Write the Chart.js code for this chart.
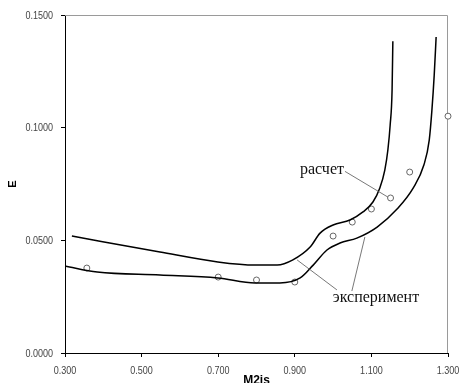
<!DOCTYPE html>
<html>
<head>
<meta charset="utf-8">
<script src="https://cdn.jsdelivr.net/npm/chart.js@4.4.1/dist/chart.umd.min.js"></script>
<style>
html,body{margin:0;padding:0;background:#fff;}
#wrap{width:462px;height:383px;position:relative;}
</style>
</head>
<body>
<div id="wrap"><canvas id="c" width="462" height="383"></canvas></div>
<script>
// ---- data ----
const upperX = [0.318,0.548,0.699,0.796,0.854,0.895,0.940,0.966,1.000,1.044,1.078,1.104,1.122,1.135,1.143,1.149,1.154,1.156];
const upperY = [0.0519,0.0448,0.0404,0.0390,0.0390,0.0413,0.0470,0.0532,0.0568,0.0590,0.0626,0.0670,0.0732,0.0812,0.0901,0.1012,0.1167,0.1384];
const lowerX = [0.300,0.384,0.548,0.699,0.796,0.861,0.914,0.948,0.984,1.018,1.062,1.115,1.167,1.209,1.237,1.251,1.258,1.264,1.269];
const lowerY = [0.0386,0.0359,0.0346,0.0333,0.0311,0.0311,0.0333,0.0390,0.0457,0.0488,0.0510,0.0559,0.0639,0.0732,0.0834,0.0945,0.1078,0.1233,0.1402];
const markX = [0.357,0.700,0.800,0.900,1.000,1.050,1.100,1.150,1.200,1.300];
const markY = [0.0377,0.0337,0.0324,0.0315,0.0519,0.0581,0.0639,0.0688,0.0803,0.1051];
const xTicks = [0.3,0.5,0.7,0.9,1.1,1.3];
const yTicks = [0,0.05,0.1,0.15];
const xTitle = 'M2is';
const yTitle = 'E';
// annotations (data units)
const notes = [
  {text:'расчет', x:0.971, y:0.0812},
  {text:'эксперимент', x:1.112, y:0.0244}
];
const leaders = [
  {x1:1.031, y1:0.0806, x2:1.143, y2:0.0692},
  {x1:1.010, y1:0.0280, x2:0.906, y2:0.0413},
  {x1:1.049, y1:0.0275, x2:1.083, y2:0.0515}
];

const pts = (xs, ys) => xs.map((x,i)=>({x:x, y:ys[i]}));
const NARROW = 0.82;

const framePlugin = {
  id:'frame',
  beforeDatasetsDraw(chart){
    const {ctx, chartArea:a} = chart;
    ctx.save();
    ctx.strokeStyle = '#9a9a9a';
    ctx.lineWidth = 1;
    ctx.beginPath();
    ctx.moveTo(a.left, a.top + 0.5);
    ctx.lineTo(a.right - 0.5, a.top + 0.5);
    ctx.lineTo(a.right - 0.5, a.bottom);
    ctx.stroke();
    ctx.restore();
  },
  afterDatasetsDraw(chart){
    const {ctx} = chart;
    const xs = chart.scales.x, ys = chart.scales.y;
    ctx.save();
    ctx.strokeStyle = '#555';
    ctx.lineWidth = 0.8;
    leaders.forEach(l=>{
      ctx.beginPath();
      ctx.moveTo(xs.getPixelForValue(l.x1), ys.getPixelForValue(l.y1));
      ctx.lineTo(xs.getPixelForValue(l.x2), ys.getPixelForValue(l.y2));
      ctx.stroke();
    });
    ctx.fillStyle = '#111';
    ctx.font = '16px "Liberation Serif", "Times New Roman", serif';
    ctx.textAlign = 'center';
    ctx.textBaseline = 'middle';
    notes.forEach(n=>{
      ctx.fillText(n.text, xs.getPixelForValue(n.x), ys.getPixelForValue(n.y));
    });
    ctx.restore();
  },
  afterDraw(chart){
    // narrow (condensed) tick labels, positioned by the scales
    const {ctx} = chart;
    const xs = chart.scales.x, ys = chart.scales.y;
    ctx.save();
    ctx.fillStyle = '#444';
    ctx.font = '11px "Liberation Sans", Arial, sans-serif';
    ctx.textBaseline = 'middle';
    xs.ticks.forEach(t=>{
      ctx.save();
      ctx.translate(xs.getPixelForValue(t.value), xs.top + 18);
      ctx.scale(NARROW, 1);
      ctx.textAlign = 'center';
      ctx.fillText(Number(t.value).toFixed(3), 0, 0);
      ctx.restore();
    });
    ys.ticks.forEach(t=>{
      ctx.save();
      ctx.translate(ys.right - 12, ys.getPixelForValue(t.value) + 0.5);
      ctx.scale(NARROW, 1);
      ctx.textAlign = 'right';
      ctx.fillText(Number(t.value).toFixed(4), 0, 0);
      ctx.restore();
    });
    ctx.restore();
  }
};

new Chart(document.getElementById('c'), {
  type:'scatter',
  data:{
    datasets:[
      {data:pts(upperX, upperY), showLine:true, borderColor:'#000', borderWidth:1.5, pointRadius:0, cubicInterpolationMode:'monotone', fill:false},
      {data:pts(lowerX, lowerY), showLine:true, borderColor:'#000', borderWidth:1.5, pointRadius:0, cubicInterpolationMode:'monotone', fill:false},
      {data:pts(markX, markY), showLine:false, borderColor:'#666', backgroundColor:'#fff', borderWidth:1, pointRadius:3, pointStyle:'circle', clip:false}
    ]
  },
  options:{
    responsive:false,
    animation:false,
    events:[],
    layout:{padding:{top:15, right:14, left:0, bottom:0}},
    plugins:{legend:{display:false}, tooltip:{enabled:false}},
    scales:{
      x:{
        type:'linear', min:0.3, max:1.3,
        afterBuildTicks(s){ s.ticks = xTicks.map(v=>({value:v})); },
        afterFit(s){ s.height = 30; },
        ticks:{display:false},
        grid:{drawOnChartArea:false, drawTicks:true, tickLength:4, color:'#000'},
        border:{color:'#000', width:1},
        title:{display:true, text:xTitle, color:'#000', font:{family:'"Liberation Sans Narrow", "Arial Narrow", "Liberation Sans", sans-serif', size:12, weight:'bold'}, padding:{top:0, bottom:-5}}
      },
      y:{
        type:'linear', min:0, max:0.15,
        afterBuildTicks(s){ s.ticks = yTicks.map(v=>({value:v})); },
        afterFit(s){ s.width = 65; },
        ticks:{display:false},
        grid:{drawOnChartArea:false, drawTicks:true, tickLength:4, color:'#000'},
        border:{color:'#000', width:1},
        title:{display:true, text:yTitle, color:'#000', font:{family:'"Liberation Sans", Arial, sans-serif', size:11, weight:'bold'}, padding:{top:6, bottom:0}}
      }
    }
  },
  plugins:[framePlugin]
});
</script>
</body>
</html>
